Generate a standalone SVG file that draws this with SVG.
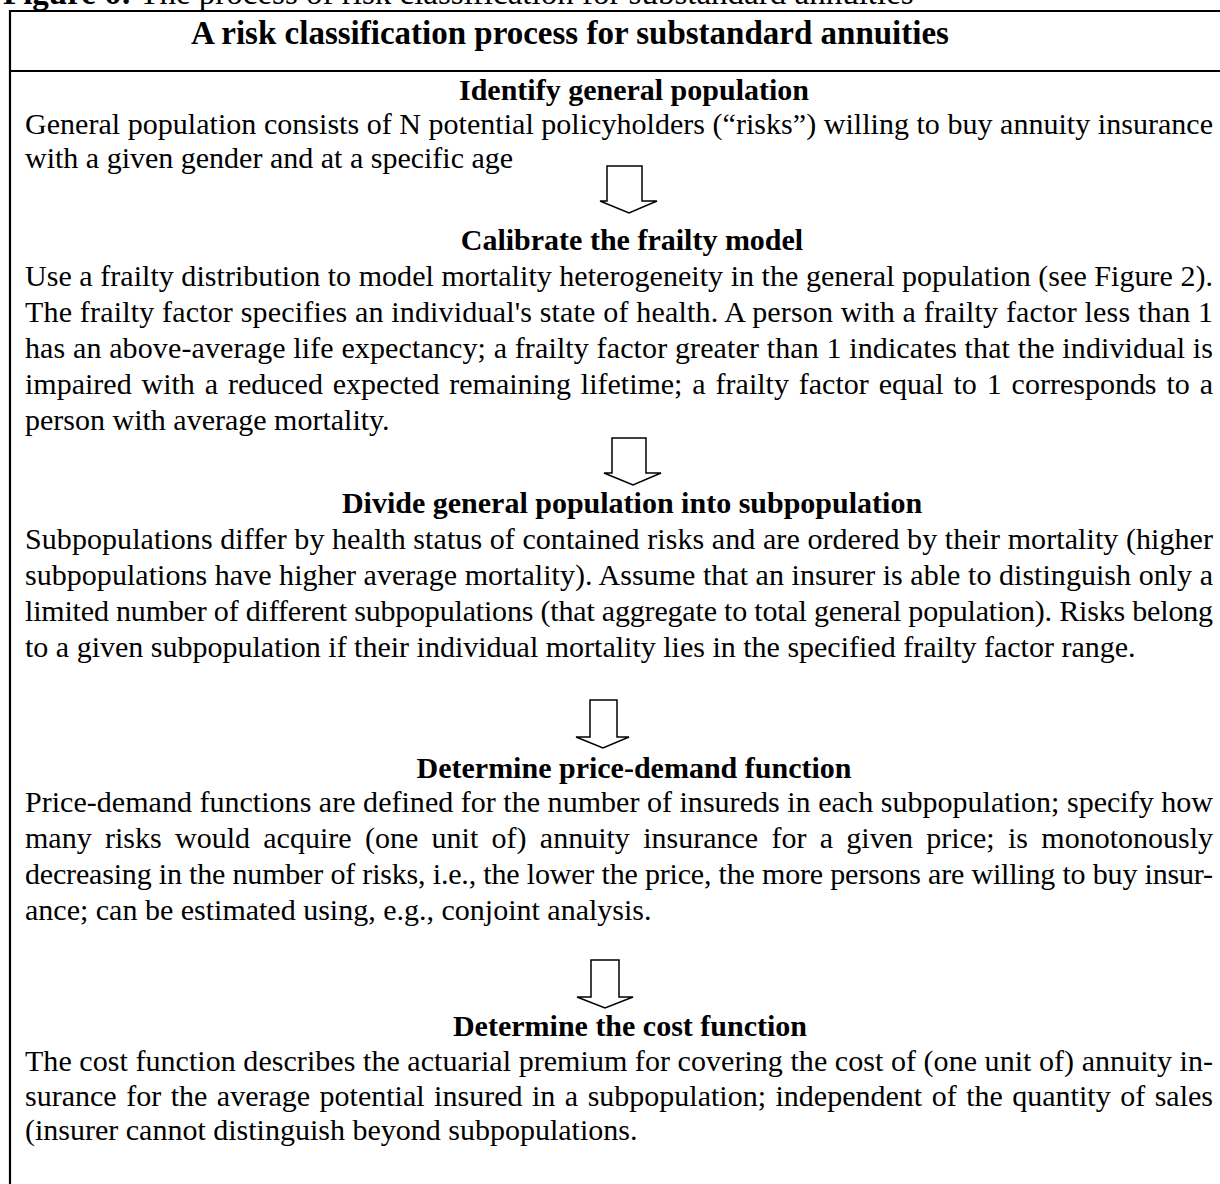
<svg xmlns="http://www.w3.org/2000/svg" width="1220" height="1184" viewBox="0 0 1220 1184">
<style>
text { font-family: "Liberation Serif", "Times New Roman", serif; fill: #000; }
.cap { font-size: 33px; }
.title { font-size: 33px; font-weight: bold; text-anchor: middle; }
.h { font-size: 30px; font-weight: bold; text-anchor: middle; }
.b { font-size: 30px; }
.rule { stroke: #000; stroke-width: 2.2; fill: none; }
.arrow { fill: #fff; stroke: #000; stroke-width: 1.5; stroke-linejoin: miter; }
</style>
<rect width="1220" height="1184" fill="#fff"/>
<text class="cap" x="3" y="4"><tspan font-weight="bold">Figure 6:</tspan> The process of risk classification for substandard annuities</text>
<g id="frame">
<line class="rule" x1="10" y1="11" x2="1220" y2="11"/>
<line class="rule" x1="10" y1="71" x2="1220" y2="71"/>
<line class="rule" x1="10" y1="10" x2="10" y2="1184"/>
<text class="title" x="570" y="44">A risk classification process for substandard annuities</text>
</g>
<g id="step1">
<text class="h" x="634" y="100">Identify general population</text>
<text class="b" x="25" y="134" textLength="1188" lengthAdjust="spacing">General population consists of N potential policyholders (“risks”) willing to buy annuity insurance</text>
<text class="b" x="25" y="168">with a given gender and at a specific age</text>
</g>
<g id="step2">
<text class="h" x="632" y="250">Calibrate the frailty model</text>
<text class="b" x="25" y="286" textLength="1188" lengthAdjust="spacing">Use a frailty distribution to model mortality heterogeneity in the general population (see Figure 2).</text>
<text class="b" x="25" y="322" textLength="1188" lengthAdjust="spacing">The frailty factor specifies an individual's state of health. A person with a frailty factor less than 1</text>
<text class="b" x="25" y="358" textLength="1188" lengthAdjust="spacing">has an above-average life expectancy; a frailty factor greater than 1 indicates that the individual is</text>
<text class="b" x="25" y="394" textLength="1188" lengthAdjust="spacing" word-spacing="2.4">impaired with a reduced expected remaining lifetime; a frailty factor equal to 1 corresponds to a</text>
<text class="b" x="25" y="430">person with average mortality.</text>
</g>
<g id="step3">
<text class="h" x="632" y="513">Divide general population into subpopulation</text>
<text class="b" x="25" y="549" textLength="1188" lengthAdjust="spacing">Subpopulations differ by health status of contained risks and are ordered by their mortality (higher</text>
<text class="b" x="25" y="585" textLength="1188" lengthAdjust="spacing">subpopulations have higher average mortality). Assume that an insurer is able to distinguish only a</text>
<text class="b" x="25" y="621" textLength="1188" lengthAdjust="spacing">limited number of different subpopulations (that aggregate to total general population). Risks belong</text>
<text class="b" x="25" y="657">to a given subpopulation if their individual mortality lies in the specified frailty factor range.</text>
</g>
<g id="step4">
<text class="h" x="634" y="778">Determine price-demand function</text>
<text class="b" x="25" y="812" textLength="1188" lengthAdjust="spacing">Price-demand functions are defined for the number of insureds in each subpopulation; specify how</text>
<text class="b" x="25" y="848" textLength="1188" lengthAdjust="spacing" word-spacing="5.8">many risks would acquire (one unit of) annuity insurance for a given price; is monotonously</text>
<text class="b" x="25" y="884" textLength="1188" lengthAdjust="spacing">decreasing in the number of risks, i.e., the lower the price, the more persons are willing to buy insur-</text>
<text class="b" x="25" y="920">ance; can be estimated using, e.g., conjoint analysis.</text>
</g>
<g id="step5">
<text class="h" x="630" y="1036">Determine the cost function</text>
<text class="b" x="25" y="1071" textLength="1188" lengthAdjust="spacing">The cost function describes the actuarial premium for covering the cost of (one unit of) annuity in-</text>
<text class="b" x="25" y="1106" textLength="1188" lengthAdjust="spacing" word-spacing="2">surance for the average potential insured in a subpopulation; independent of the quantity of sales</text>
<text class="b" x="25" y="1140">(insurer cannot distinguish beyond subpopulations.</text>
</g>
<g id="connectors">
<polygon class="arrow" points="607,166 642,166 642,201 657,201 629,213 600,201 607,201"/>
<polygon class="arrow" points="612,438 646,438 646,473 661,473 633,485 604,473 612,473"/>
<polygon class="arrow" points="590,700 617,700 617,737 629,737 603,748 576,737 590,737"/>
<polygon class="arrow" points="591,960 619,960 619,997 633,997 605,1008 577,997 591,997"/>
</g>
</svg>
